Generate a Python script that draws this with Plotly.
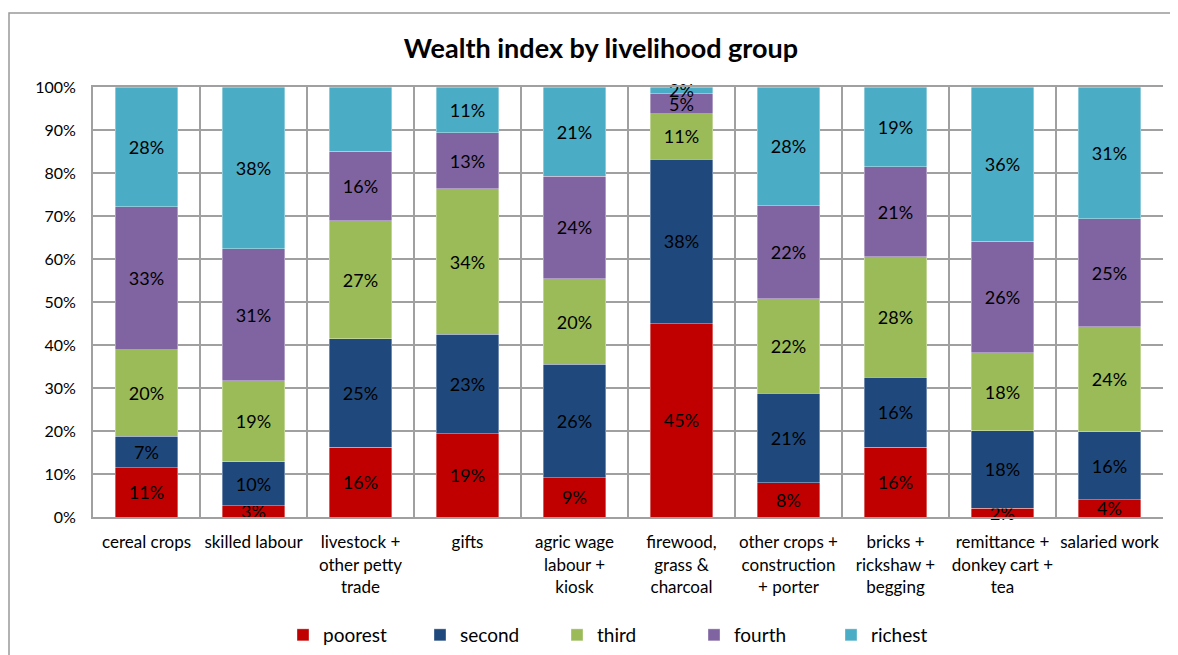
import plotly.graph_objects as go

categories = [
    "cereal crops", "skilled labour", "livestock +<br>other petty<br>trade", "gifts",
    "agric wage<br>labour +<br>kiosk", "firewood,<br>grass &<br>charcoal",
    "other crops +<br>construction<br>+ porter", "bricks +<br>rickshaw +<br>begging",
    "remittance +<br>donkey cart +<br>tea", "salaried work",
]
poorest = [11.4, 2.6, 16.2, 19.4, 9.1, 45.0, 8.0, 16.2, 2.0, 4.0]
second = [7.4, 10.2, 25.3, 23.1, 26.4, 38.2, 20.8, 16.3, 18.1, 15.8]
third = [20.1, 18.9, 27.4, 33.8, 19.9, 10.6, 21.9, 28.0, 18.1, 24.4]
fourth = [33.2, 30.7, 16.2, 13.1, 23.9, 4.6, 21.7, 20.9, 25.9, 25.2]
richest = [27.9, 37.6, 14.9, 10.6, 20.7, 1.6, 27.6, 18.6, 35.9, 30.6]

series = [
    ("poorest", poorest, "#C00000"),
    ("second", second, "#1F497D"),
    ("third", third, "#9BBB59"),
    ("fourth", fourth, "#8064A2"),
    ("richest", richest, "#4BACC6"),
]

FONT = "Lato, 'Open Sans', sans-serif"
GRID = "#a0a0a0"

fig = go.Figure()
for name, vals, col in series:
    fig.add_trace(go.Bar(
        name=name, x=categories, y=vals,
        marker=dict(color=col, line=dict(width=0.6, color="rgba(255,255,255,0.6)")),
        texttemplate="%{y:.0f}%", textposition="inside", insidetextanchor="middle",
        textfont=dict(color="black", size=18, family=FONT),
        textangle=0, cliponaxis=False,
    ))

# page body has an 8px margin; lay the figure out in page coords minus 8
OFF = 8
W, H = 1178 - OFF, 655 - OFF
L, R, T, B = 93 - OFF, 1178 - 1163, 87 - OFF, 655 - 517
pw, ph = W - L - R, H - T - B

fig.update_layout(
    barmode="stack", bargap=0.42,
    width=W, height=H,
    margin=dict(l=L, r=R, t=T, b=B, autoexpand=False),
    paper_bgcolor="white", plot_bgcolor="white",
    font=dict(family=FONT, size=16, color="black"),
    uniformtext=dict(minsize=18, mode="show"),
    title=dict(text="<b>Wealth index by livelihood group</b>", x=(601 - OFF) / W,
               xanchor="center", y=1 - (49 - OFF) / H, yanchor="middle",
               font=dict(size=27, family=FONT, color="black")),
    showlegend=True,
    legend=dict(orientation="h", x=(283 - 93) / pw, xanchor="left",
                y=(517 - 635) / ph, yanchor="middle",
                entrywidth=92, entrywidthmode="pixels",
                font=dict(size=19, family=FONT), traceorder="normal"),
    xaxis=dict(tickson="boundaries", showgrid=True, gridcolor=GRID, gridwidth=2,
               showline=True, linecolor=GRID, linewidth=2, mirror=True,
               ticks="", tickangle=0, ticklabelstandoff=9,
               tickfont=dict(size=17, family=FONT), automargin=False),
    yaxis=dict(range=[0, 100], dtick=10, ticksuffix="%", showgrid=True,
               gridcolor=GRID, gridwidth=2, showline=True, linecolor=GRID,
               linewidth=2, ticks="", ticklabelstandoff=12,
               tickfont=dict(size=16, family=FONT),
               zeroline=False, automargin=False),
    shapes=[dict(type="rect", xref="paper", yref="paper",
                 x0=(9 - 93) / pw, x1=1.2, y0=-0.6, y1=(517 - 13) / ph,
                 line=dict(color="#999999", width=1.5), fillcolor="rgba(0,0,0,0)", layer="below")],
)

fig.write_html("out.html")
